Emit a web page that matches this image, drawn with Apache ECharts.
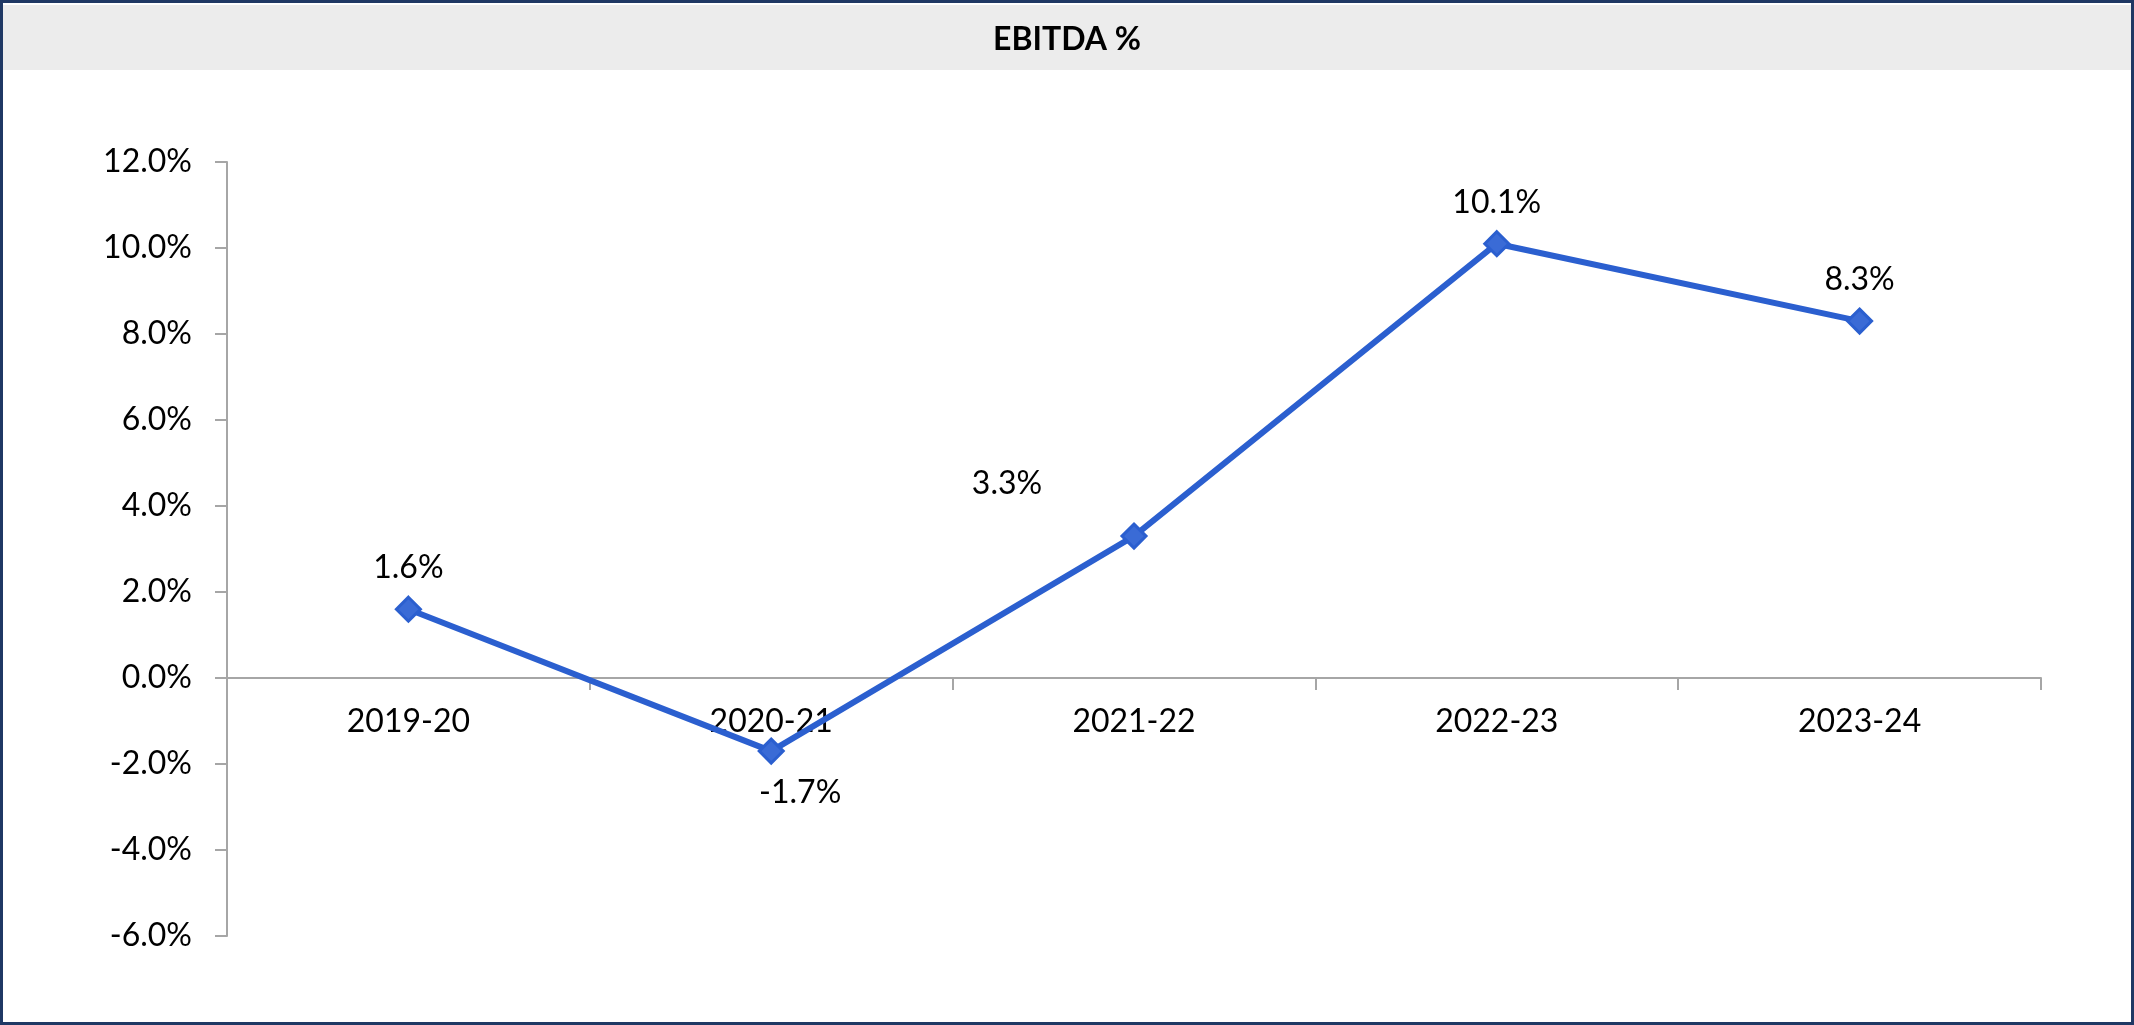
<!DOCTYPE html>
<html>
<head>
<meta charset="utf-8">
<style>
  html, body { margin: 0; padding: 0; background: #fff; }
  #chart { width: 2134px; height: 1025px; }
</style>
<script src="https://cdn.jsdelivr.net/npm/echarts@6/dist/echarts.min.js"></script>
</head>
<body>
<div id="chart"></div>
<script>
const titleText = 'EBITDA %'
const years = ['2019-20', '2020-21', '2021-22', '2022-23', '2023-24']
const ebitdaPct = [1.6, -1.7, 3.3, 10.1, 8.3]

const lineColor = '#2b5fcf'
const axisColor = '#a6a6a6'
const font = 'Lato, "Open Sans", sans-serif'

// label placement per point, matching the reference
const labelPlacement = [
  { position: 'top', offset: [0, 0] },
  { position: 'bottom', offset: [29, 0] },
  { position: 'top', offset: [-127, -11] },
  { position: 'top', offset: [0, 0] },
  { position: 'top', offset: [0, 0] }
]

const chart = echarts.init(document.getElementById('chart'), null, { renderer: 'canvas' })

chart.setOption({
  animation: false,
  backgroundColor: '#fff',
  graphic: [
    {
      type: 'rect',
      shape: { x: 2, y: 5, width: 2130, height: 65 },
      style: { fill: '#ececec' },
      z: 0
    },
    {
      type: 'rect',
      shape: { x: 1.5, y: 1.5, width: 2131, height: 1022 },
      style: { fill: null, stroke: '#1f3864', lineWidth: 3 },
      z: 10
    }
  ],
  title: {
    text: titleText,
    left: 'center',
    top: 19,
    textStyle: { fontFamily: font, fontSize: 32, fontWeight: 'bold', color: '#000' }
  },
  grid: { left: 227, right: 93, top: 162, bottom: 89, containLabel: false },
  xAxis: {
    type: 'category',
    data: years,
    boundaryGap: true,
    // move the whole axis (line, ticks, labels) up to the 0% line
    offset: -258,
    axisLine: { onZero: false, lineStyle: { color: axisColor, width: 2 } },
    axisTick: { show: true, length: 12, lineStyle: { color: axisColor, width: 2 } },
    axisLabel: { fontFamily: font, fontSize: 32, color: '#000', margin: 28 }
  },
  yAxis: {
    type: 'value',
    min: -6,
    max: 12,
    interval: 2,
    axisLine: { show: true, lineStyle: { color: axisColor, width: 2 } },
    axisTick: { show: true, length: 12, lineStyle: { color: axisColor, width: 2 } },
    splitLine: { show: false },
    axisLabel: {
      fontFamily: font,
      fontSize: 32,
      color: '#000',
      margin: 35,
      formatter: (v) => v.toFixed(1) + '%'
    }
  },
  series: [
    {
      name: titleText,
      type: 'line',
      data: ebitdaPct.map((v, i) => ({
        value: v,
        label: { position: labelPlacement[i].position, offset: labelPlacement[i].offset }
      })),
      symbol: 'diamond',
      symbolSize: 24,
      lineStyle: { color: lineColor, width: 6 },
      itemStyle: { color: '#3a6bd6', borderColor: lineColor, borderWidth: 3 },
      label: {
        show: true,
        distance: 12,
        fontFamily: font,
        fontSize: 32,
        color: '#000',
        formatter: (p) => p.value.toFixed(1) + '%'
      },
      z: 3
    }
  ]
})
</script>
</body>
</html>
